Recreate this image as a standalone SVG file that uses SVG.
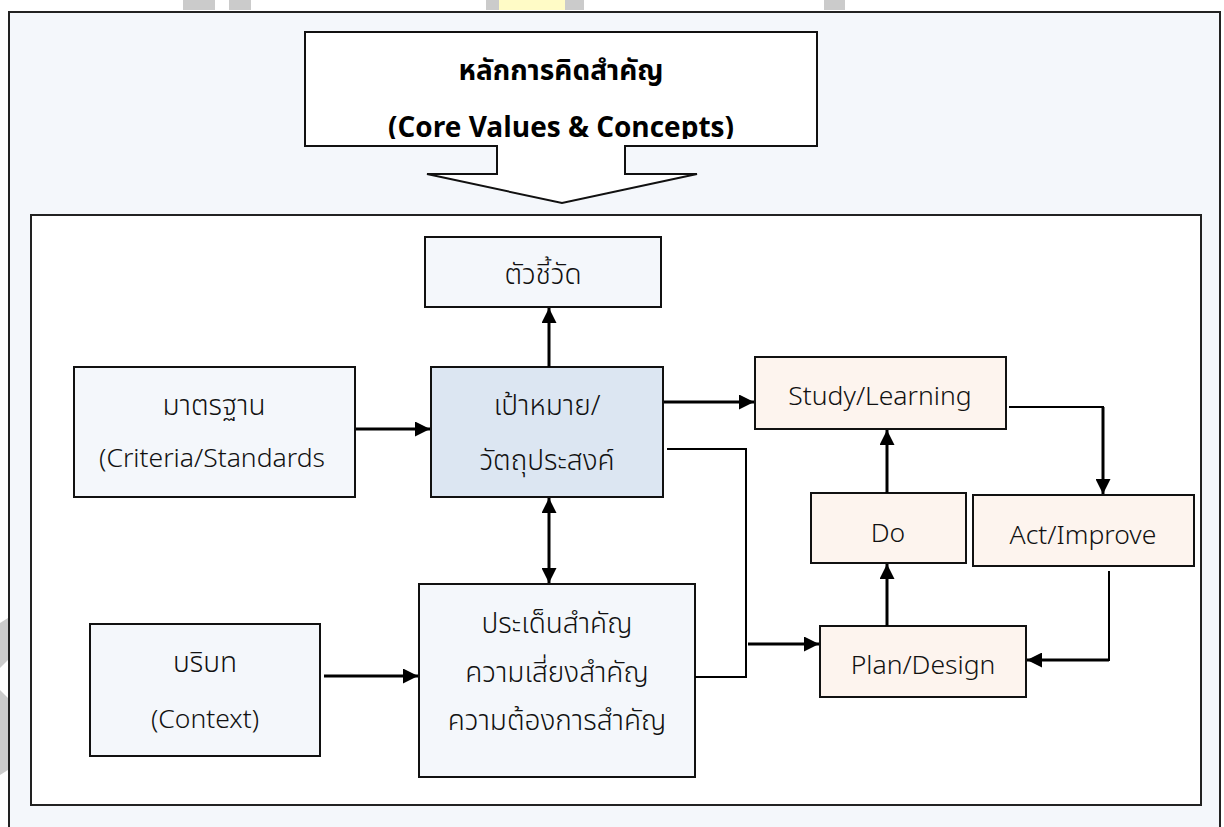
<svg xmlns="http://www.w3.org/2000/svg" width="1224" height="827" viewBox="0 0 1224 827">
  <defs>
    <marker id="head" viewBox="0 0 10 10" refX="10" refY="5" markerWidth="5" markerHeight="5" orient="auto-start-reverse" markerUnits="strokeWidth">
      <path d="M0,0 L10,5 L0,10 Z" fill="#000"/>
    </marker>
    <!-- text area of the callout; lines below it are cut off -->
    <clipPath id="calloutClip">
      <rect x="305" y="32" width="512" height="107"/>
    </clipPath>
  </defs>
  <style>
    .frame { fill: #f4f7fb; stroke: #222; stroke-width: 2; }
    .panel { fill: #ffffff; stroke: #222; stroke-width: 2; }
    .soft { fill: #f4f7fb; stroke: #111; stroke-width: 2; }
    .goal { fill: #dce6f2; stroke: #111; stroke-width: 2; }
    .cycle { fill: #fdf4ee; stroke: #111; stroke-width: 2; }
    .callout { fill: #ffffff; stroke: #111; stroke-width: 2; }
    .lbl { font-family: "Noto Sans Thai", "Noto Sans", "Leelawadee UI", sans-serif; font-size: 28px; font-weight: 300; fill: #111; text-anchor: middle; }
    .en { font-size: 26.5px; }
    .head { font-family: "Noto Sans Thai", "Noto Sans", "Tahoma", sans-serif; font-size: 28px; font-weight: bold; fill: #000; text-anchor: middle; }
    .arrow { fill: none; stroke: #000; stroke-width: 3; marker-end: url(#head); }
    .both { fill: none; stroke: #000; stroke-width: 3; marker-start: url(#head); marker-end: url(#head); }
    .wire { fill: none; stroke: #000; stroke-width: 2; }
    .wm { fill: #cbcbcb; }
  </style>

  <!-- faint logo fragments along the page edges -->
  <g id="edge-marks">
    <rect class="wm" x="183" y="0" width="32" height="10"/>
    <rect class="wm" x="229" y="0" width="22" height="10"/>
    <rect class="wm" x="486" y="0" width="13" height="10"/>
    <rect x="499" y="0" width="66" height="10" fill="#fffbc6"/>
    <rect class="wm" x="565" y="0" width="19" height="10"/>
    <rect class="wm" x="824" y="0" width="21" height="10"/>
    <polygon class="wm" points="0,623 8,618 8,660 0,668"/>
    <polygon class="wm" points="0,690 8,698 8,770 0,775"/>
  </g>

  <!-- outer page frame and inner panel -->
  <rect id="page" class="frame" x="9" y="12" width="1211" height="830"/>
  <rect id="panel" class="panel" x="31" y="215" width="1170" height="590"/>

  <!-- core values callout with down arrow -->
  <g id="core-values">
    <path class="callout" d="M305,32 H817 V146 H625 V174 H697 L562,203 L427,174 H497 V146 H305 Z"/>
    <g clip-path="url(#calloutClip)">
      <text class="head" x="561" y="80">หลักการคิดสำคัญ</text>
      <text class="head" x="561" y="137">(Core Values &amp; Concepts)</text>
    </g>
  </g>

  <g id="indicators">
    <rect class="soft" x="425" y="237" width="236" height="70"/>
    <text class="lbl" x="543" y="284">ตัวชี้วัด</text>
  </g>

  <g id="criteria">
    <rect class="soft" x="74" y="367" width="281" height="130"/>
    <text class="lbl" x="214" y="415">มาตรฐาน</text>
    <text class="lbl en" x="212" y="467">(Criteria/Standards</text>
  </g>

  <g id="goals">
    <rect class="goal" x="431" y="367" width="232" height="130"/>
    <text class="lbl" x="547" y="415">เป้าหมาย/</text>
    <text class="lbl" x="547" y="470">วัตถุประสงค์</text>
  </g>

  <g id="context">
    <rect class="soft" x="90" y="624" width="230" height="132"/>
    <text class="lbl" x="205" y="672">บริบท</text>
    <text class="lbl en" x="205" y="728">(Context)</text>
  </g>

  <g id="key-issues">
    <rect class="soft" x="419" y="584" width="276" height="193"/>
    <text class="lbl" x="557" y="633">ประเด็นสำคัญ</text>
    <text class="lbl" x="557" y="682">ความเสี่ยงสำคัญ</text>
    <text class="lbl" x="557" y="730">ความต้องการสำคัญ</text>
  </g>

  <g id="study">
    <rect class="cycle" x="755" y="357" width="251" height="72"/>
    <text class="lbl en" x="880" y="405">Study/Learning</text>
  </g>

  <g id="do">
    <rect class="cycle" x="811" y="493" width="155" height="70"/>
    <text class="lbl en" x="888" y="542">Do</text>
  </g>

  <g id="act">
    <rect class="cycle" x="973" y="495" width="221" height="71"/>
    <text class="lbl en" x="1083" y="544">Act/Improve</text>
  </g>

  <g id="plan">
    <rect class="cycle" x="820" y="626" width="206" height="71"/>
    <text class="lbl en" x="923" y="674">Plan/Design</text>
  </g>

  <g id="connectors">
    <line class="arrow" x1="549" y1="367" x2="549" y2="308"/>
    <line class="arrow" x1="356" y1="429" x2="430" y2="429"/>
    <line class="both" x1="549" y1="498" x2="549" y2="583"/>
    <line class="arrow" x1="324" y1="676" x2="418" y2="676"/>
    <line class="arrow" x1="664" y1="402" x2="754" y2="402"/>
    <polyline class="wire" points="667,449 746,449 746,677 695,677"/>
    <line class="arrow" x1="748" y1="644" x2="819" y2="644"/>
    <line class="arrow" x1="887" y1="626" x2="887" y2="564"/>
    <line class="arrow" x1="887" y1="493" x2="887" y2="430"/>
    <polyline class="wire" points="1009,407 1103,407 1103,420"/>
    <line class="arrow" x1="1103" y1="407" x2="1103" y2="494"/>
    <polyline class="wire" points="1109,571 1109,660 1060,660"/>
    <line class="arrow" x1="1109" y1="660" x2="1027" y2="660"/>
  </g>
</svg>
